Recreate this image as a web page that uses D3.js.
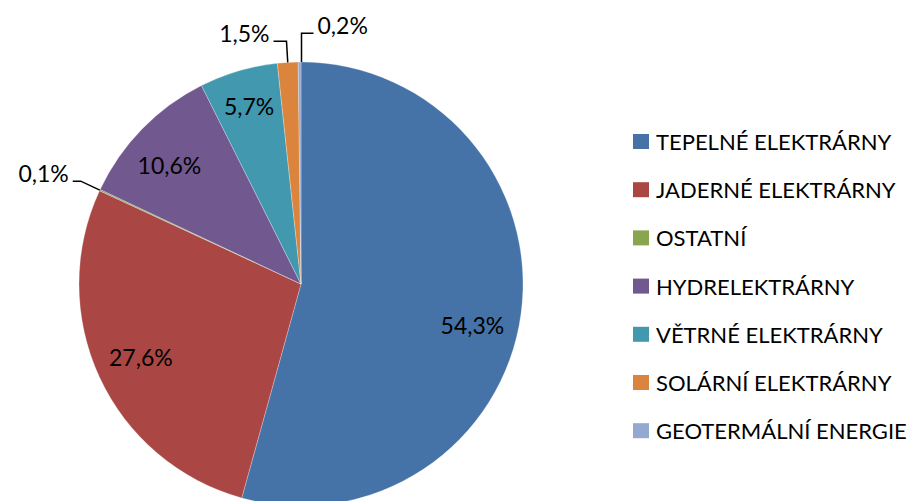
<!DOCTYPE html>
<html>
<head>
<meta charset="utf-8">
<script src="https://cdn.jsdelivr.net/npm/d3@7"></script>
<style>
  body { margin: 0; background: #fff; }
  svg { display: block; font-family: Lato, "Open Sans", sans-serif; }
</style>
</head>
<body>
<svg id="chart"></svg>
<script>
const width = 919;
const height = 501;

// data
const categories = ['TEPELNÉ ELEKTRÁRNY', 'JADERNÉ ELEKTRÁRNY', 'OSTATNÍ', 'HYDRELEKTRÁRNY',
  'VĚTRNÉ ELEKTRÁRNY', 'SOLÁRNÍ ELEKTRÁRNY', 'GEOTERMÁLNÍ ENERGIE'];
const shares = [54.3, 27.6, 0.1, 10.6, 5.7, 1.5, 0.2];
const colors = ['#4572A7', '#AA4643', '#89A54E', '#71588F', '#4198AF', '#DB843D', '#93A9CF'];

const fmt = v => d3.format('.1f')(v).replace('.', ',') + '%';

const cx = 301, cy = 284, radius = 222;

// label placement: inside labels get an angle nudge (deg) and radius factor,
// outside ones get a leader line
const inside = { 0: [6, 0.795], 1: [0, 0.795], 3: [-2.5, 0.795], 4: [0, 0.83] };
const outside = {
  2: { elbow: 1.095, dir: -1, run: 8 },
  5: { elbow: 1.095, dir: -1, run: 13 },
  6: { elbow: 1.13, dir: 1, run: 12 }
};

const svg = d3.select('#chart')
  .attr('width', width)
  .attr('height', height);

const pie = d3.pie().sort(null).value(d => d.value);
const arcs = pie(shares.map((v, i) => ({ value: v, name: categories[i], i })));

const arc = d3.arc().innerRadius(0).outerRadius(radius);

const g = svg.append('g').attr('transform', `translate(${cx},${cy})`);

g.selectAll('path.slice')
  .data(arcs)
  .enter()
  .append('path')
    .classed('slice', true)
    .attr('d', arc)
    .style('fill', d => colors[d.data.i])
    .style('stroke', 'rgba(255,255,255,0.45)')
    .style('stroke-width', 0.6);

const polar = (a, r) => [Math.sin(a) * r, -Math.cos(a) * r];
const mid = d => (d.startAngle + d.endAngle) / 2;
const inPos = d => {
  const [nudge, f] = inside[d.data.i];
  return polar(mid(d) + nudge * Math.PI / 180, radius * f);
};

// inside labels
g.selectAll('text.inlabel')
  .data(arcs.filter(d => inside[d.data.i] !== undefined))
  .enter()
  .append('text')
    .classed('inlabel', true)
    .attr('x', d => inPos(d)[0])
    .attr('y', d => inPos(d)[1])
    .attr('text-anchor', 'middle')
    .attr('dy', '0.35em')
    .style('font-size', '23px')
    .style('fill', '#000')
    .text(d => fmt(d.data.value));

// outside labels with leader lines
const outArcs = arcs.filter(d => outside[d.data.i] !== undefined);

outArcs.forEach(d => {
  const o = outside[d.data.i];
  const a = mid(d);
  const p0 = polar(a, radius);
  const p1 = polar(a, radius * o.elbow);
  if (d.data.i === 6) p1[0] = p0[0] = 0.5;
  const p2 = [p1[0] + o.dir * o.run, p1[1]];

  g.append('polyline')
    .attr('points', [p0, p1, p2].map(p => p.join(',')).join(' '))
    .style('fill', 'none')
    .style('stroke', '#000')
    .style('stroke-width', 1.5);

  g.append('text')
    .attr('x', p2[0] + o.dir * 4)
    .attr('y', p2[1] + 1)
    .attr('text-anchor', o.dir < 0 ? 'end' : 'start')
    .style('font-size', '23px')
    .style('fill', '#000')
    .text(fmt(d.data.value));
});

// legend
const legend = svg.append('g').attr('transform', 'translate(633,142)');

const rows = legend.selectAll('g.row')
  .data(categories)
  .enter()
  .append('g')
    .classed('row', true)
    .attr('transform', (d, i) => `translate(0,${i * 48.2})`);

rows.append('rect')
  .attr('x', 0)
  .attr('y', -8)
  .attr('width', 16)
  .attr('height', 15)
  .style('fill', (d, i) => colors[i]);

rows.append('text')
  .attr('x', 23)
  .attr('y', 0)
  .attr('dy', '0.36em')
  .style('font-size', '22px')
  .style('fill', '#000')
  .text(d => d);
</script>
</body>
</html>
